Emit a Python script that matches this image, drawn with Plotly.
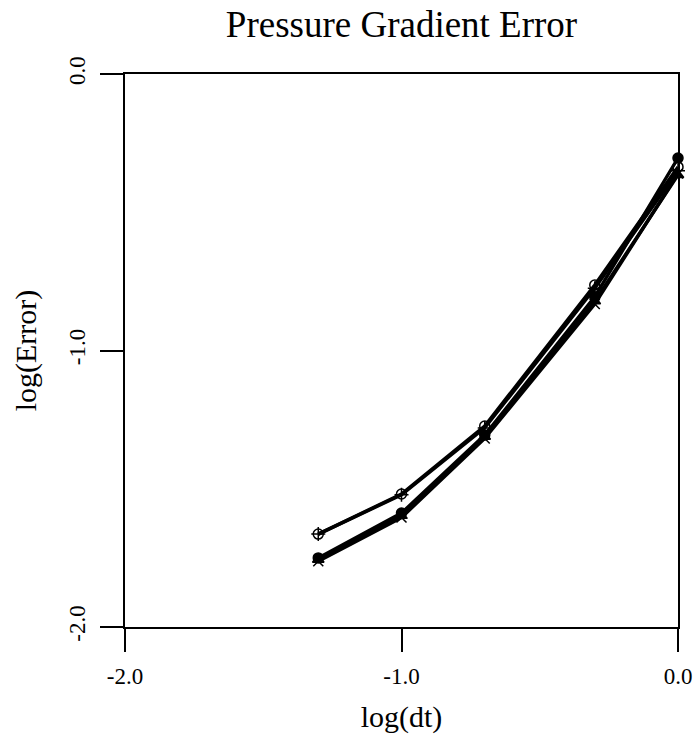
import plotly.graph_objects as go

# x values: log10(dt)
log_dt = [-1.301, -1.0, -0.699, -0.301, 0.0]

# series values: log10(error)
err_circle = [-1.664, -1.519, -1.273, -0.763, -0.336]
err_plus = [-1.664, -1.522, -1.280, -0.775, -0.350]
err_filled = [-1.750, -1.588, -1.306, -0.806, -0.304]
err_triangle = [-1.757, -1.598, -1.312, -0.822, -0.365]
err_x = [-1.762, -1.604, -1.318, -0.832, -0.360]

tick_vals = [-2.0, -1.0, 0.0]
tick_text = ["-2.0", "-1.0", "0.0"]

FONT = "Liberation Serif"

fig = go.Figure()

series = [
    (err_circle, "circle-open"),
    (err_plus, "cross-thin-open"),
    (err_triangle, "triangle-up"),
    (err_x, "x-thin-open"),
    (err_filled, "circle"),
]
for ys, sym in series:
    fig.add_trace(go.Scatter(
        x=log_dt, y=ys, mode="lines+markers",
        line=dict(color="black", width=3.4),
        marker=dict(symbol=sym, size=10, color="black",
                    line=dict(color="black", width=1.5)),
        showlegend=False, cliponaxis=False,
    ))

axis_common = dict(
    range=[-2, 0], tickvals=tick_vals, ticktext=tick_text,
    showgrid=False, zeroline=False, showline=True, mirror=True,
    linecolor="black", linewidth=1.5, ticks="outside", ticklen=23,
    tickwidth=1.5, tickcolor="black", automargin=False,
    tickfont=dict(family=FONT, size=23, color="black"),
)

fig.update_layout(
    width=694, height=751,
    margin=dict(l=125, r=16, t=74, b=124),
    paper_bgcolor="white", plot_bgcolor="white",
    title=dict(text="Pressure Gradient Error", x=0.5, xref="paper",
               y=0.968, yref="container", yanchor="middle",
               font=dict(family=FONT, size=37, color="black")),
    xaxis=dict(**axis_common, ticklabelstandoff=5,
               title=dict(text="log(dt)", standoff=18,
                          font=dict(family=FONT, size=30, color="black"))),
    yaxis=dict(**axis_common, tickangle=-90, ticklabelstandoff=6,
               title=dict(text="log(Error)", standoff=20,
                          font=dict(family=FONT, size=30, color="black"))),
)

fig.write_html("out.html")
